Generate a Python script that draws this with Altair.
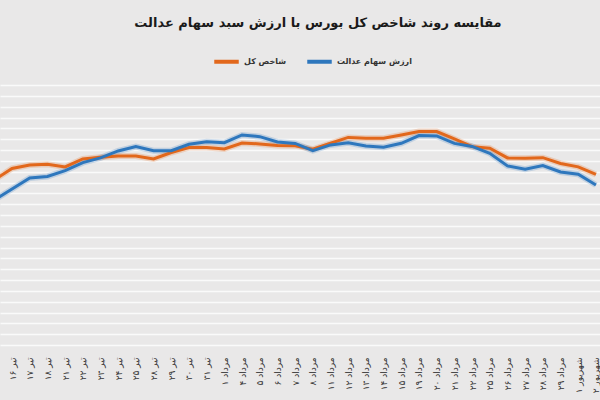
import altair as alt
import pandas as pd

# x positions (trading-day index); index -1 is cropped at the left edge
idx = list(range(-1, 34))

dates = [
    "۱۵ تیر", "۱۶ تیر", "۱۷ تیر", "۱۸ تیر", "۲۱ تیر", "۲۲ تیر", "۲۳ تیر", "۲۴ تیر",
    "۲۵ تیر", "۲۸ تیر", "۲۹ تیر", "۳۰ تیر", "۳۱ تیر",
    "۱ مرداد", "۴ مرداد", "۵ مرداد", "۶ مرداد", "۷ مرداد", "۸ مرداد", "۱۱ مرداد",
    "۱۲ مرداد", "۱۳ مرداد", "۱۴ مرداد", "۱۵ مرداد", "۱۹ مرداد", "۲۰ مرداد",
    "۲۱ مرداد", "۲۲ مرداد", "۲۵ مرداد", "۲۶ مرداد", "۲۷ مرداد", "۲۸ مرداد",
    "۲۹ مرداد", "۱ شهریور", "۲ شهریور",
]

shakhes = [
    15.24, 16.30, 16.62, 16.69, 16.44, 17.17, 17.34, 17.45, 17.45, 17.17,
    17.77, 18.22, 18.22, 18.10, 18.65, 18.56, 18.42, 18.40, 18.07, 18.62,
    19.16, 19.09, 19.09, 19.39, 19.70, 19.70, 19.02, 18.31, 18.16, 17.27,
    17.24, 17.29, 16.76, 16.44, 15.74,
]

edalat = [
    13.39, 14.40, 15.42, 15.56, 16.09, 16.83, 17.27, 17.91, 18.31, 17.94,
    17.94, 18.53, 18.77, 18.68, 19.39, 19.23, 18.74, 18.61, 17.94, 18.47,
    18.67, 18.37, 18.25, 18.62, 19.33, 19.30, 18.61, 18.33, 17.70, 16.53,
    16.22, 16.57, 15.97, 15.76, 14.77,
]

series = ["شاخص کل", "ارزش سهام عدالت"]
colors = ["#E2681C", "#2E77BD"]
title_text = "مقایسه روند شاخص کل بورس با ارزش سبد سهام عدالت"

n = len(idx)
df = pd.DataFrame({
    "i": idx * 2,
    "v": shakhes + edalat,
    "s": [series[0]] * n + [series[1]] * n,
})

label_expr = "[" + ",".join("'" + d + "'" for d in dates[1:]) + "][datum.value]"

x = alt.X(
    "i:Q",
    scale=alt.Scale(domain=[-0.68, 33.23], nice=False, zero=False),
    axis=alt.Axis(
        values=list(range(34)),
        labelExpr=label_expr,
        labelAngle=270,
        labelAlign="right",
        labelBaseline="middle",
        labelFontSize=9,
        labelColor="#333333",
        labelFont="DejaVu Sans",
        labelPadding=12,
        labelOverlap=False,
        ticks=False,
        domain=False,
        grid=False,
        title=None,
    ),
)
y = alt.Y(
    "v:Q",
    scale=alt.Scale(domain=[0, 24], nice=False, zero=True),
    axis=alt.Axis(
        values=list(range(25)),
        labels=False,
        ticks=False,
        domain=False,
        grid=True,
        gridColor="#FAFAFA",
        gridWidth=1.5,
        title=None,
    ),
)

color_scale = alt.Scale(domain=series, range=colors)
legend = alt.Legend(
    orient="none", legendX=212, legendY=-38, direction="horizontal",
    title=None, symbolType="stroke", symbolStrokeWidth=4, symbolSize=600,
    symbolOpacity=1,
    labelFontSize=8, labelFontWeight="bold", labelColor="#333333",
    labelFont="DejaVu Sans", columnPadding=12, labelOffset=3,
)
color = alt.Color("s:N", scale=color_scale, legend=legend)

halo = alt.Chart(df).mark_line(strokeWidth=6, opacity=0.22, clip=True).encode(
    x=x, y=y, color=color,
)
main = alt.Chart(df).mark_line(strokeWidth=3, clip=True).encode(
    x=x, y=y, color=color,
)

chart = (halo + main).properties(
    width=600,
    height=260,
    autosize=alt.AutoSizeParams(type="none"),
    padding={"left": 0, "top": 85, "right": 0, "bottom": 55},
    background="#E9E8E8",
    title=alt.TitleParams(
        title_text, fontSize=13, fontWeight="bold", font="DejaVu Sans",
        color="#1A1A1A", anchor="middle", offset=17, dx=18,
    ),
).configure_view(stroke=None, fill="#E9E8E8")

chart.save("out.html", embed_options={"renderer": "svg", "actions": False})
